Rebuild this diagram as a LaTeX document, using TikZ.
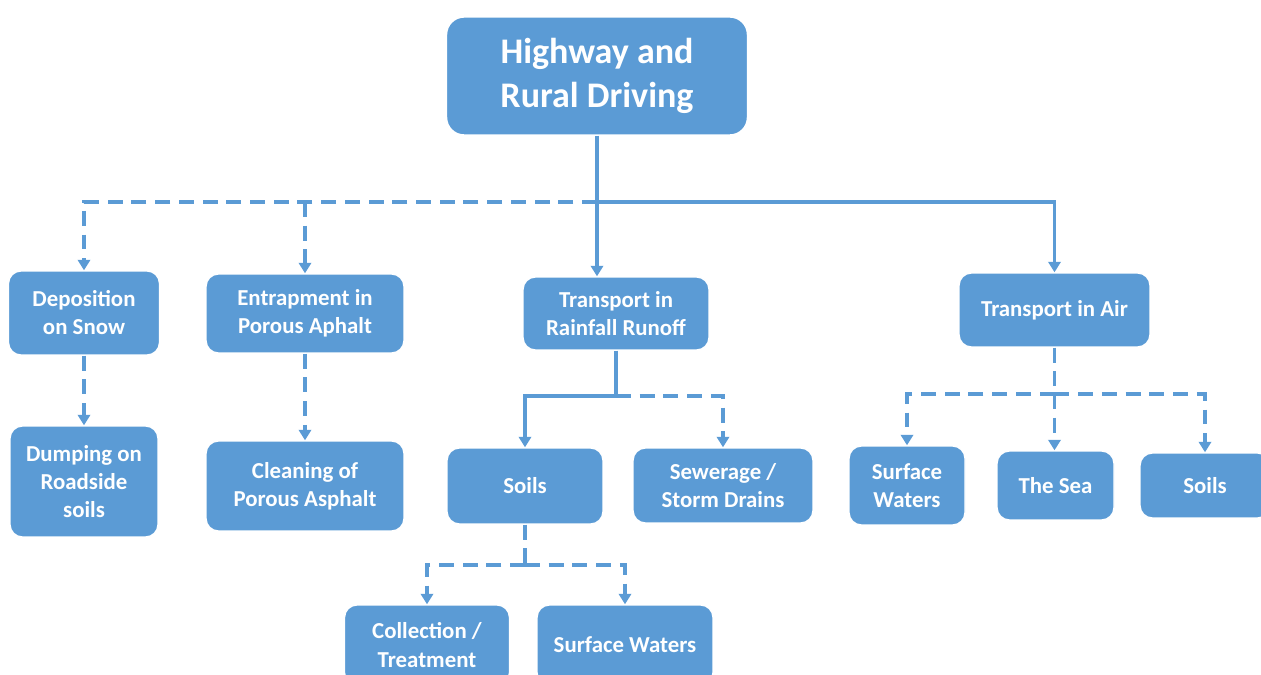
\documentclass[tikz,border=0pt]{standalone}
\usepackage{fontspec}
\setmainfont{Carlito}
\usetikzlibrary{arrows.meta}
\definecolor{boxblue}{HTML}{5B9BD5}

\begin{document}
\begin{tikzpicture}[
    x=0.02cm, y=-0.02cm,
    box/.style={draw=white, line width=0.8pt, fill=boxblue, rounded corners=7pt, text=white,
        align=center, font=\fontsize{13}{16}\selectfont\bfseries, inner sep=2pt},
    topbox/.style={box, rounded corners=10pt, font=\fontsize{20.5}{25}\selectfont\bfseries},
    link/.style={draw=boxblue, line width=2pt},
    dlink/.style={link, dash pattern=on 8.5pt off 5pt},
    arrow/.style={link, -{Triangle[width=7pt,length=6pt]}},
    darrow/.style={arrow, dash pattern=on 8.5pt off 5pt}
]
\useasboundingbox (0,0) rectangle (1261,675);

% top
\node[topbox, minimum width=6.02cm, minimum height=2.36cm] (hw) at (597,76) {Highway and\\Rural Driving};

% first level
\node[box, minimum width=3.02cm, minimum height=1.68cm] (snow) at (84,313) {Deposition\\on Snow};
\node[box, minimum width=3.96cm, minimum height=1.58cm] (entrap) at (305,313.5) {Entrapment in\\Porous Aphalt};
\node[box, minimum width=3.72cm, minimum height=1.46cm] (rain) at (616,313.5) {Transport in\\Rainfall Runoff};
\node[box, minimum width=3.82cm, minimum height=1.48cm] (air) at (1054.5,310) {Transport in Air};

% second level
\node[box, minimum width=2.96cm, minimum height=2.22cm] (dump) at (84,481.5) {Dumping on\\Roadside\\soils};
\node[box, minimum width=3.96cm, minimum height=1.80cm] (clean) at (305,486) {Cleaning of\\Porous Asphalt};
\node[box, minimum width=3.12cm, minimum height=1.52cm] (soilsA) at (525,486) {Soils};
\node[box, minimum width=3.60cm, minimum height=1.50cm] (sewer) at (723,485.5) {Sewerage /\\Storm Drains};
\node[box, minimum width=2.32cm, minimum height=1.58cm] (surfA) at (907,485.5) {Surface\\Waters};
\node[box, minimum width=2.34cm, minimum height=1.38cm] (sea) at (1055.5,485.5) {The Sea};
\node[box, minimum width=2.60cm, minimum height=1.30cm] (soilsB) at (1205,485.5) {Soils};

% third level
\node[box, minimum width=3.30cm, minimum height=1.60cm] (coll) at (427,645) {Collection /\\Treatment};
\node[box, minimum width=3.52cm, minimum height=1.60cm] (surfB) at (625,645) {Surface Waters};

% junctions
\coordinate (j1) at (597,202);
\coordinate (j2) at (616,396);
\coordinate (j3) at (1054.5,394);
\coordinate (j4) at (525,565);

% connectors
\draw[link] (hw.south -| j1) -- (j1);
\draw[arrow] (j1) -| (air.north);
\draw[arrow] (j1) -- (j1 |- rain.north);
\draw[darrow] (j1) -| (snow.north);
\draw[darrow] (j1 -| entrap.north) -- (entrap.north);

\draw[darrow] (snow.south) -- (dump.north);
\draw[darrow] (entrap.south) -- (clean.north);

\draw[link] (rain.south) -- (j2);
\draw[arrow] (j2) -| (soilsA.north);
\draw[darrow] (j2) -| (sewer.north);

\draw[dlink] (air.south) -- (j3);
\draw[darrow] (j3) -| (surfA.north);
\draw[darrow] (j3) -- (j3 |- sea.north);
\draw[darrow] (j3) -| (soilsB.north);

\draw[dlink] (soilsA.south) -- (j4);
\draw[darrow] (j4) -| (coll.north);
\draw[darrow] (j4) -| (surfB.north);

\end{tikzpicture}
\end{document}
